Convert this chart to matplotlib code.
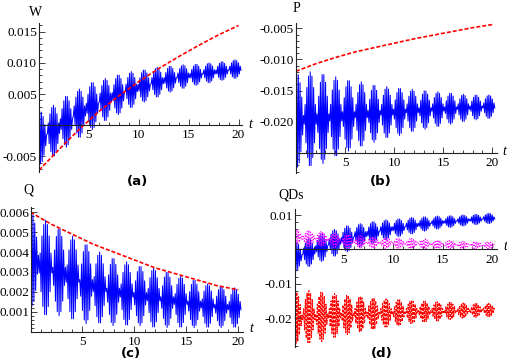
import matplotlib
matplotlib.use('Agg')
import matplotlib.pyplot as plt
from matplotlib.ticker import FixedLocator, MultipleLocator, FormatStrFormatter

# ---- smooth dashed curves (read at t = 0, 2, ..., 20) ----
t_env = [0, 2, 4, 6, 8, 10, 12, 14, 16, 18, 20]
W_env = [-0.0072, -0.0039, -0.0007, 0.0022, 0.0047, 0.0070, 0.0091, 0.0110, 0.0128, 0.0145, 0.0160]
P_env = [-0.0119, -0.0107, -0.0097, -0.0088, -0.0081, -0.0074, -0.0067, -0.0061, -0.0055, -0.0049, -0.0044]
Q_env = [0.0060, 0.0054, 0.0049, 0.0044, 0.0040, 0.0036, 0.0032, 0.0029, 0.0026, 0.0023, 0.0021]

# ---- oscillating curves: beat lobes (centre time, centre value, half height) ----
lobe_t = [0.15, 1.45, 2.75, 4.05, 5.35, 6.65, 7.95, 9.25, 10.55, 11.85,
          13.15, 14.45, 15.75, 17.05, 18.35, 19.65]
W_mid = [-0.0020, -0.0009, 0.0006, 0.0019, 0.0031, 0.0041, 0.0049, 0.0057, 0.0063, 0.0069,
         0.0074, 0.0078, 0.0081, 0.0084, 0.0087, 0.0090]
W_amp = [0.0042, 0.0041, 0.0041, 0.0039, 0.0038, 0.0034, 0.0032, 0.0029, 0.0026, 0.0024,
         0.0021, 0.0019, 0.0017, 0.0016, 0.0015, 0.0015]
P_mid = [-0.0198, -0.0196, -0.0195, -0.0192, -0.0190, -0.0188, -0.0187, -0.0185, -0.0184, -0.0182,
         -0.0181, -0.0180, -0.0179, -0.0178, -0.0177, -0.0176]
P_amp = [0.0075, 0.0076, 0.0072, 0.0064, 0.0057, 0.0052, 0.0046, 0.0041, 0.0038, 0.0034,
         0.0031, 0.0028, 0.0025, 0.0022, 0.0020, 0.0019]
Q_mid = [0.0036, 0.0032, 0.0030, 0.0027, 0.0024, 0.0022, 0.0020, 0.0019, 0.0018, 0.0017,
         0.0016, 0.0015, 0.0014, 0.0013, 0.00125, 0.0012]
Q_amp = [0.0023, 0.0024, 0.0022, 0.0021, 0.0020, 0.0018, 0.0017, 0.0016, 0.0015, 0.0015,
         0.0014, 0.0013, 0.0012, 0.0011, 0.00105, 0.0010]

lobe_shape = [0.105, 0.31, 0.5, 0.67, 0.81, 0.91, 0.98, 1.0,
              0.98, 0.91, 0.81, 0.67, 0.5, 0.31, 0.105]
stroke_dt = 1.3 / len(lobe_shape)


def zigzag(mid, amp):
    ts, vs = [], []
    sign = 1
    half = len(lobe_shape) // 2
    for tc, m, a in zip(lobe_t, mid, amp):
        for j, p in enumerate(lobe_shape):
            ts.append(tc + (j - half) * stroke_dt)
            vs.append(m + sign * a * p)
            sign = -sign
    return ts, vs


W_t, W_v = zigzag(W_mid, W_amp)
P_t, P_v = zigzag(P_mid, P_amp)
Q_t, Q_v = zigzag(Q_mid, Q_amp)

FW, FH = 507, 360
fig = plt.figure(figsize=(FW / 100, FH / 100), dpi=100)
fig.patch.set_facecolor('white')

SERIF = 'Liberation Serif'
TICKFS = 9.5
BLUE = (0, 0, 1)
RED = (1, 0, 0)
MAG = (1, 0, 1)
DASH = (0, (2.4, 1.2))


def make_ax(left, right, top, bottom, xlim, ylim, xaxis_y, yticks, ymajor_fmt, yminor, ypad=1.5):
    ax = fig.add_axes([left / FW, 1 - bottom / FH, (right - left) / FW, (bottom - top) / FH])
    ax.set_xlim(*xlim)
    ax.set_ylim(*ylim)
    ax.set_facecolor('none')
    for s in ('top', 'right'):
        ax.spines[s].set_visible(False)
    ax.spines['left'].set_position(('data', 0))
    ax.spines['bottom'].set_position(('data', xaxis_y))
    for s in ('left', 'bottom'):
        ax.spines[s].set_linewidth(0.8)
        ax.spines[s].set_color('#222222')
    ax.xaxis.set_major_locator(FixedLocator([5, 10, 15, 20]))
    ax.xaxis.set_minor_locator(FixedLocator([1, 2, 3, 4, 6, 7, 8, 9, 11, 12, 13, 14, 16, 17, 18, 19]))
    ax.yaxis.set_major_locator(FixedLocator(yticks))
    ax.yaxis.set_major_formatter(FormatStrFormatter(ymajor_fmt))
    ax.yaxis.set_minor_locator(MultipleLocator(yminor))
    ax.tick_params(which='both', direction='in', color='#222222', width=0.6)
    ax.tick_params(which='major', length=4)
    ax.tick_params(which='minor', length=2.2)
    ax.tick_params(axis='x', which='major', pad=3)
    ax.tick_params(axis='y', which='major', pad=ypad)
    for lab in ax.get_xticklabels() + ax.get_yticklabels():
        lab.set_fontfamily(SERIF)
        lab.set_fontsize(TICKFS)
    return ax


def px_text(x, y, s, **kw):
    fig.text(x / FW, 1 - y / FH, s, ha='center', va='center', **kw)


# (a) W
axa = make_ax(39, 241.7, 23, 172, (0, 20.32), (-0.0075, 0.0164), 0,
              [-0.005, 0.005, 0.010, 0.015], '%.3f', 0.001)
axa.plot(W_t, W_v, color=BLUE, lw=0.75)
axa.plot(t_env, W_env, color=RED, lw=1.2, linestyle=DASH)

# (b) P
axb = make_ax(296, 497, 23, 173, (0, 20.48), (-0.02824, -0.00415), -0.025,
              [-0.020, -0.015, -0.010, -0.005], '%.3f', 0.001)
axb.plot(P_t, P_v, color=BLUE, lw=0.75)
axb.plot(t_env, P_env, color=RED, lw=1.2, linestyle=DASH)

# (c) Q
axc = make_ax(30.5, 243, 206.7, 331.5, (0, 20.45), (0, 0.00628), 0,
              [0.001, 0.002, 0.003, 0.004, 0.005, 0.006], '%.3f', 0.0002, ypad=0.8)
axc.plot(Q_t, Q_v, color=BLUE, lw=0.75)
axc.plot(t_env, Q_env, color=RED, lw=1.2, linestyle=DASH)

# (d) QDs
axd = make_ax(294.5, 497, 209.3, 346.7, (0, 20.48), (-0.02825, 0.01166), 0,
              [-0.02, -0.01, 0.01], '%.2f', 0.002)
axd.plot(W_t, W_v, color=BLUE, lw=0.75)
axd.plot(Q_t, Q_v, color=MAG, lw=0.8, linestyle=':')
axd.plot(P_t, P_v, color=RED, lw=0.8, linestyle=DASH)

# axis names
px_text(36, 12, 'W', family=SERIF, fontsize=10)
px_text(296, 9, 'P', family=SERIF, fontsize=10)
px_text(28, 190, 'Q', family=SERIF, fontsize=10)
px_text(291, 195, 'QDs', family=SERIF, fontsize=10)
for (x, y) in [(250, 124), (504, 151), (251, 329), (505, 246)]:
    px_text(x, y, 't', family=SERIF, fontsize=10, style='italic')

# panel letters
for (x, y, s) in [(137, 181, '(a)'), (381, 181, '(b)'), (131, 354, '(c)'), (382, 353, '(d)')]:
    px_text(x, y, s, family='DejaVu Sans', fontsize=9.5, fontweight='bold')

fig.savefig('out.png', dpi=100, facecolor='white')
